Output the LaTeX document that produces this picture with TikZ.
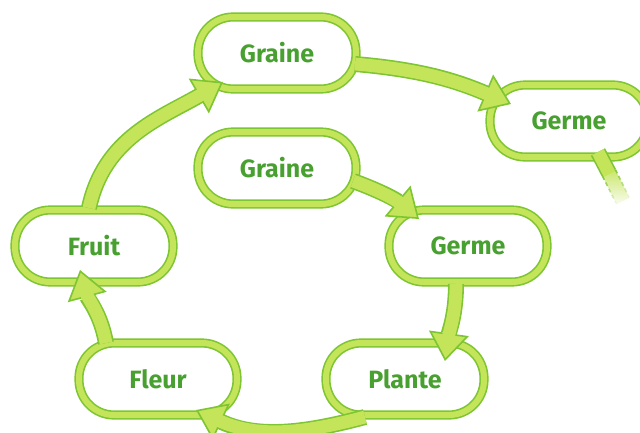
\documentclass[tikz,border=0pt]{standalone}
\usepackage{fontspec}
\setmainfont{Fira Sans}
\usepackage{xcolor}
\usetikzlibrary{arrows.meta,calc,fadings}
\definecolor{leaf}{HTML}{C4E45A}
\definecolor{stem}{HTML}{7DC532}
\definecolor{ink}{HTML}{48A030}
\tikzset{
  stage/.style={rectangle, rounded corners=35pt, minimum width=158pt,
    minimum height=72pt, inner sep=0pt, fill=white, draw=stem,
    line width=1.6pt, double=leaf, double distance=6pt, text=ink,
    font=\fontsize{25}{28}\selectfont\bfseries},
  bandout/.style={line width=16pt, draw=stem,
    -{Triangle[length=28pt,width=40pt,fill=leaf,line width=1.6pt]}},
  bandin/.style={line width=12.8pt, draw=leaf, shorten >=24pt},
  sproutedge/.style={stem, line width=1.6pt, dash pattern=on 4pt off 3pt, path fading=south},
}
% band arrow: dark outline pass, then light core
\newcommand\cyclearrow[1]{\draw[bandout] #1; \draw[bandin] #1;}

\begin{document}
\begin{tikzpicture}[x=1pt,y=-1pt]
    \clip (0,0) rectangle (640,432);
    % stages of the cycle
    \node[stage] (graineA) at (277,53)  {Graine};
    \node[stage] (germeA)  at (569,121) {Germe};
    \node[stage] (graineB) at (277,168) {Graine};
    \node[stage] (germeB)  at (468,246) {Germe};
    \node[stage] (fruit)   at (94,246)  {Fruit};
    \node[stage] (fleur)   at (158,379) {Fleur};
    \node[stage] (plante)  at (405,379) {Plante};
    % outer cycle
    \cyclearrow{([shift={(78,11)}]graineA.center) to[out=-5,in=157] ([shift={(-58,-17)}]germeA.center)}
    \cyclearrow{([shift={(-5,-38)}]fruit.center) to[out=78,in=-150] ([shift={(-54,29)}]graineA.center)}
    \cyclearrow{([shift={(-52,-36)}]fleur.center) to[out=100,in=-75] ([shift={(-14,24)}]fruit.center)}
    \cyclearrow{([shift={(-40,38)}]plante.center) to[out=-165,in=-25] ([shift={(38,31)}]fleur.center)}
    % inner cycle
    \cyclearrow{([shift={(76,13)}]graineB.center) to[out=-20,in=140] ([shift={(-49,-27)}]germeB.center)}
    \cyclearrow{([shift={(-12,38)}]germeB.center) to[out=-90,in=82] ([shift={(40,-18)}]plante.center)}
    % sprout leaving the picture, fading with dashed edges
    \coordinate (sproutbase) at ([shift={(29,31)}]germeA.center);
    \coordinate (sproutmid) at ([shift={(40,52)}]germeA.center);
    \coordinate (sprout) at ([shift={(54,80)}]germeA.center);
    \draw[line width=16pt, stem] (sproutbase) -- (sproutmid);
    \draw[line width=12.8pt, leaf] (sproutbase) -- ([shift={(0.5,1)}]sproutmid);
    \draw[line width=14.4pt, leaf, path fading=south] (sproutmid) -- (sprout);
    \draw[sproutedge] ($(sproutmid)!7.2pt!90:(sprout)$) -- ($(sprout)!7.2pt!-90:(sproutmid)$);
    \draw[sproutedge] ($(sproutmid)!7.2pt!-90:(sprout)$) -- ($(sprout)!7.2pt!90:(sproutmid)$);
\end{tikzpicture}
\end{document}
